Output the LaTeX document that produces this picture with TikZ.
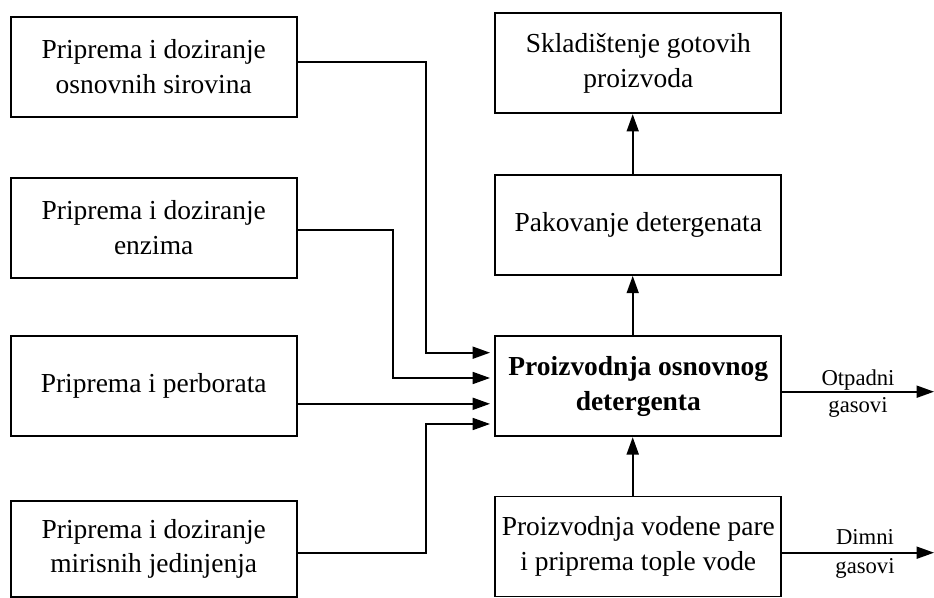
\documentclass[tikz,border=0pt]{standalone}
\usepackage{fontspec}
\setmainfont{Liberation Serif}
\usetikzlibrary{arrows.meta}

\begin{document}
\begin{tikzpicture}[x=0.75pt,y=0.75pt,yscale=-1,xscale=1,
  box/.style={draw, line width=1.3pt, align=center, minimum width=214.5pt, minimum height=75pt, inner sep=2pt,
    font=\fontsize{20.6}{26}\selectfont},
  flow/.style={line width=1.3pt, -{Triangle[length=13pt,width=9pt]}},
  gaslabel/.style={anchor=base, inner sep=0pt, font=\fontsize{17}{20}\selectfont}]
\useasboundingbox (0,0) rectangle (934,598);

%Left column
\node[box] (osn) at (153.7,66.7) {Priprema i doziranje\\osnovnih sirovina};
\node[box] (enz) at (153.7,227.8) {Priprema i doziranje\\enzima};
\node[box] (perb) at (153.7,386.3) {Priprema i perborata};
\node[box, minimum height=72pt] (mir) at (153.7,549) {Priprema i doziranje\\mirisnih jedinjenja};

%Right column
\node[box] (skl) at (638.3,63.3) {Skladištenje gotovih\\proizvoda};
\node[box] (pak) at (638.3,225) {Pakovanje detergenata};
\node[box, font=\fontsize{20.6}{26}\selectfont\bfseries] (det) at (638.3,386.3) {Proizvodnja osnovnog\\detergenta};
\node[box] (para) at (638.3,546.5) {Proizvodnja vodene pare\\i priprema tople vode};

%Entry points and free ends
\coordinate (in1) at (490,352.7);
\coordinate (in2) at (490,378);
\coordinate (in3) at (490,403.8);
\coordinate (in4) at (490,424);
\coordinate (otp) at (934,391.7);
\coordinate (dim) at (934,552.7);

%Inputs
\draw[flow] (osn.east |- 0,61.7) -| (426,352.7) -- (in1);
\draw[flow] (enz.east |- 0,230) -| (393,378) -- (in2);
\draw[flow] (perb.east |- in3) -- (in3);
\draw[flow] (mir.east |- 0,552.7) -| (426,424) -- (in4);

%Vertical flow
\draw[flow] (det.north -| 632.7,0) -- (pak.south -| 632.7,0);
\draw[flow] (pak.north -| 632.7,0) -- (skl.south -| 632.7,0);
\draw[flow] (para.north -| 632.7,0) -- (det.south -| 632.7,0);

%Outputs
\draw[flow] (det.east |- otp) -- (otp);
\draw[flow] (para.east |- dim) -- (dim);

% Text Node
\node[gaslabel] (otp1) at (858,385) {Otpadni};
\node[gaslabel] (otp2) at (858,412.7) {gasovi};
\node[gaslabel] (dim1) at (865,544.3) {Dimni};
\node[gaslabel] (dim2) at (865,573) {gasovi};

\end{tikzpicture}
\end{document}
